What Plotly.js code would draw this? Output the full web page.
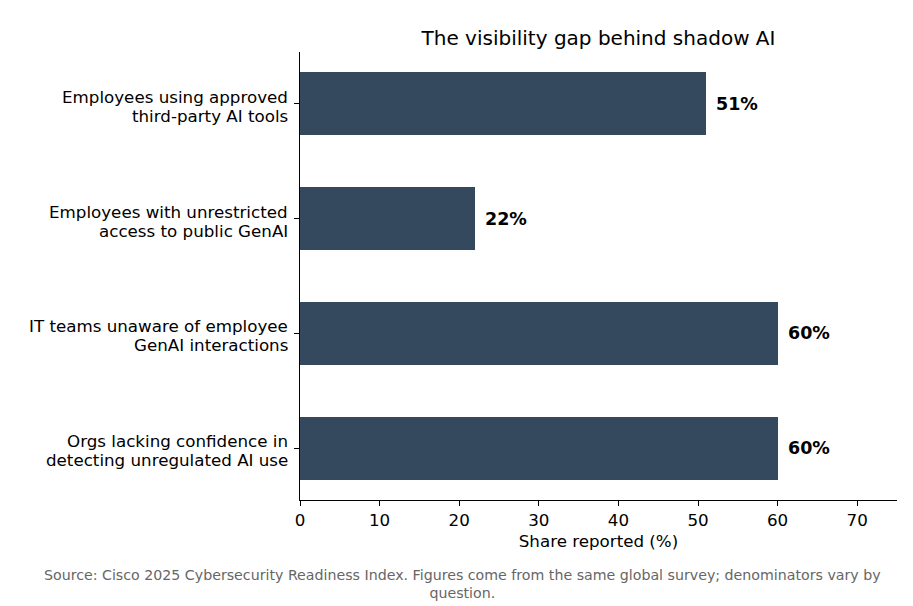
<!DOCTYPE html>
<html>
<head>
<meta charset="utf-8">
<script src="https://cdn.plot.ly/plotly-3.0.1.min.js"></script>
<style>html,body{margin:0;padding:0;background:#fff;}#chart{width:913px;height:606px;}</style>
</head>
<body>
<div id="chart"></div>
<script>
const categories = [
  "Employees using approved<br>third-party AI tools",
  "Employees with unrestricted<br>access to public GenAI",
  "IT teams unaware of employee<br>GenAI interactions",
  "Orgs lacking confidence in<br>detecting unregulated AI use"
];
const values = [51, 22, 60, 60];
const valueLabels = values.map(v => v + "%");
const xTicks = [0, 10, 20, 30, 40, 50, 60, 70];

const font = "DejaVu Sans, sans-serif";

const trace = {
  type: "bar",
  orientation: "h",
  y: categories,
  x: values,
  width: 0.55,
  marker: { color: "#34495e", line: { width: 0 } },
  hoverinfo: "skip"
};

const annotations = values.map((v, i) => ({
  x: v, y: categories[i], xref: "x", yref: "y",
  text: "<b>" + valueLabels[i] + "</b>",
  showarrow: false, xanchor: "left", yanchor: "middle", xshift: 8,
  font: { family: font, size: 17.5, color: "#000" }
}));
// category labels, drawn line by line for matplotlib-like line spacing
const lineShifts = [7, -12];
categories.forEach(c => {
  c.split("<br>").forEach((line, j) => {
    annotations.push({
      xref: "paper", yref: "y", x: 0, y: c,
      text: line, showarrow: false, xanchor: "right", yanchor: "middle",
      xshift: -11, yshift: lineShifts[j], align: "right", borderpad: 0,
      font: { family: font, size: 16.7, color: "#000" }
    });
  });
});
annotations.push({
  xref: "paper", yref: "paper", x: 0.273, y: -0.188,
  xanchor: "center", yanchor: "middle", showarrow: false, align: "center",
  text: "Source: Cisco 2025 Cybersecurity Readiness Index. Figures come from the same global survey; denominators vary by<br>question.",
  font: { family: font, size: 14.2, color: "#666" }
});

const layout = {
  width: 913, height: 606,
  margin: { l: 300, r: 16, t: 52, b: 106 },
  paper_bgcolor: "#fff", plot_bgcolor: "#fff",
  font: { family: font, size: 16.7, color: "#000" },
  title: {
    text: "The visibility gap behind shadow AI",
    font: { family: font, size: 20, color: "#000" },
    xref: "paper", x: 0.5, xanchor: "center",
    yref: "container", y: 0.937, yanchor: "middle"
  },
  xaxis: {
    range: [0, 75], tickvals: xTicks, ticktext: xTicks.map(String),
    showgrid: false, zeroline: false, showline: true, linecolor: "#000", linewidth: 1,
    ticks: "outside", ticklen: 5, tickcolor: "#000",
    tickfont: { family: font, size: 16.7, color: "#000" },
    title: { text: "Share reported (%)", font: { family: font, size: 16.7, color: "#000" }, standoff: 6 }
  },
  yaxis: {
    type: "category", range: [3.45, -0.45],
    showgrid: false, zeroline: false, showline: true, linecolor: "#000", linewidth: 1,
    ticks: "outside", ticklen: 5, tickcolor: "#000",
    showticklabels: false
  },
  annotations: annotations,
  showlegend: false,
  bargap: 0
};

Plotly.newPlot("chart", [trace], layout, { displayModeBar: false, staticPlot: true });
</script>
</body>
</html>
